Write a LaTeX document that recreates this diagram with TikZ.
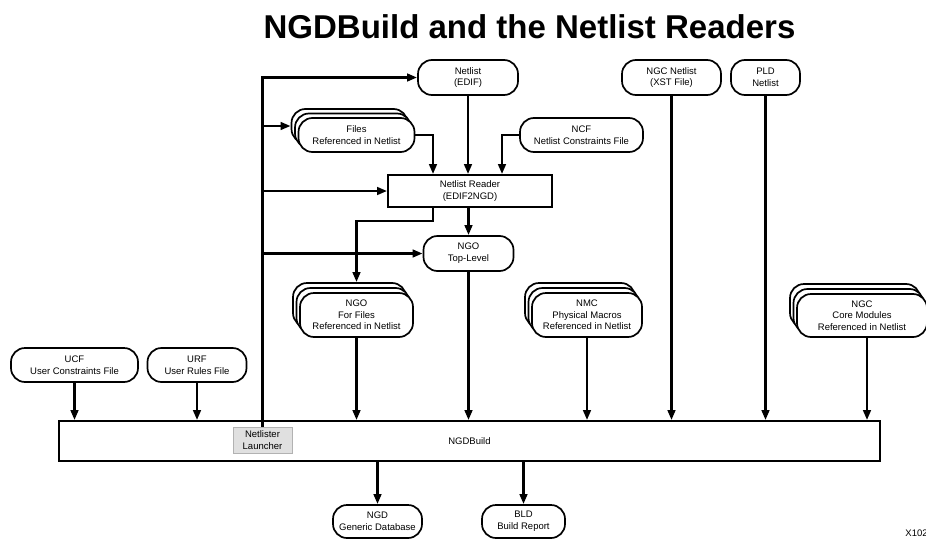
\documentclass[tikz,border=0pt]{standalone}
\usepackage{fontspec}
\setmainfont{Liberation Sans}
\usetikzlibrary{arrows.meta}
\tikzset{
  base/.style={font=\fontsize{9.5}{11.7}\selectfont, align=center, inner sep=0pt},
  rbox/.style={base, draw, line width=1.7pt, rounded corners=14pt, fill=white},
  sbox/.style={base, draw, line width=1.7pt, fill=white},
  launch/.style={base, draw=black!30, fill=black!12, line width=1pt},
  conn/.style={line width=2.6pt, -{Triangle[length=10pt,width=7.5pt]}},
}
\begin{document}
\begin{tikzpicture}[x=1pt,y=-1pt]
\useasboundingbox (0,0) rectangle (926,538);
% title
\node[font=\fontsize{33}{36}\selectfont\bfseries, inner sep=0pt] (title) at (529.5,27) {NGDBuild and the Netlist Readers};
% top row
\node[rbox, minimum width=100pt, minimum height=35pt] (netlist) at (468,77.5) {Netlist\\(EDIF)};
\node[rbox, minimum width=99pt, minimum height=35pt] (ngcnet) at (671.5,77.5) {NGC Netlist\\(XST File)};
\node[rbox, minimum width=69pt, minimum height=35pt] (pld) at (765.5,77.5) {PLD\\Netlist};
% files stack
\node[rbox, minimum width=116pt, minimum height=34pt] (filesB) at (349.5,126) {};
\node[rbox, minimum width=116pt, minimum height=34pt] (filesM) at (353,130.5) {};
\node[rbox, minimum width=116pt, minimum height=34pt] (files) at (356.5,135) {Files\\Referenced in Netlist};
\node[rbox, minimum width=123pt, minimum height=34pt] (ncf) at (581.5,135) {NCF\\Netlist Constraints File};
\node[sbox, minimum width=164pt, minimum height=32pt] (reader) at (470,191) {Netlist Reader\\(EDIF2NGD)};
\node[rbox, minimum width=90pt, minimum height=35pt] (ngotop) at (468.5,253.5) {NGO\\Top-Level};
% NGO for files stack
\node[rbox, minimum width=113pt, minimum height=44pt] (ngofB) at (349.5,305) {};
\node[rbox, minimum width=113pt, minimum height=44pt] (ngofM) at (353,310) {};
\node[rbox, minimum width=113pt, minimum height=44pt] (ngof) at (356.5,315) {NGO\\For Files\\Referenced in Netlist};
% NMC stack
\node[rbox, minimum width=110pt, minimum height=44pt] (nmcB) at (580,305) {};
\node[rbox, minimum width=110pt, minimum height=44pt] (nmcM) at (583.5,310) {};
\node[rbox, minimum width=110pt, minimum height=44pt] (nmc) at (587,315) {NMC\\Physical Macros\\Referenced in Netlist};
% NGC stack
\node[rbox, minimum width=130pt, minimum height=43pt] (ngcB) at (855,305.5) {};
\node[rbox, minimum width=130pt, minimum height=43pt] (ngcM) at (858.5,310.5) {};
\node[rbox, minimum width=130pt, minimum height=43pt] (ngc) at (862,315.5) {NGC\\Core Modules\\Referenced in Netlist};
% UCF / URF
\node[rbox, minimum width=127pt, minimum height=34pt] (ucf) at (74.5,365) {UCF\\User Constraints File};
\node[rbox, minimum width=99pt, minimum height=34pt] (urf) at (197,365) {URF\\User Rules File};
% NGDBuild
\node[sbox, minimum width=821pt, minimum height=40pt] (ngd) at (469.5,441) {NGDBuild};
\node[launch, minimum width=59pt, minimum height=26pt] (launcher) at (262.5,440) {Netlister\\Launcher};
% outputs
\node[rbox, minimum width=89pt, minimum height=33pt] (ngdout) at (377.5,521.5) {NGD\\Generic Database};
\node[rbox, minimum width=83pt, minimum height=33pt] (bld) at (523.5,521.5) {BLD\\Build Report};
\node[base] (xid) at (916.5,533) {X102};
% left bus
\coordinate (bus) at (262.5,77.5);
\draw[conn] (launcher.north) -- (bus) -- (netlist.west);
\draw[conn] (launcher.north |- filesB.west) -- (filesB.west);
\draw[conn] (launcher.north |- reader.west) -- (reader.west);
\draw[conn] (launcher.north |- ngotop.west) -- (ngotop.west);
% into reader
\coordinate (rin1) at ([xshift=-37pt]reader.north);
\coordinate (rin3) at ([xshift=32pt]reader.north);
\draw[conn] (files.east) -| (rin1);
\draw[conn] (netlist.south) -- (netlist.south |- reader.north);
\draw[conn] (ncf.west) -| (rin3);
% out of reader
\coordinate (rout1) at ([xshift=-37pt]reader.south);
\coordinate (bend) at (356.5,221);
\draw[conn] (rout1) |- (bend) -- (ngof.north |- ngofB.north);
\draw[conn] (ngotop.north |- reader.south) -- (ngotop.north);
% into NGDBuild
\draw[conn] (ngotop.south) -- (ngotop.south |- ngd.north);
\draw[conn] (ngof.south) -- (ngof.south |- ngd.north);
\draw[conn] (nmc.south) -- (nmc.south |- ngd.north);
\draw[conn] ([xshift=5pt]ngc.south) -- ([xshift=5pt]ngc.south |- ngd.north);
\draw[conn] (ngcnet.south) -- (ngcnet.south |- ngd.north);
\draw[conn] (pld.south) -- (pld.south |- ngd.north);
\draw[conn] (ucf.south) -- (ucf.south |- ngd.north);
\draw[conn] (urf.south) -- (urf.south |- ngd.north);
% outputs
\draw[conn] (ngdout.north |- ngd.south) -- (ngdout.north);
\draw[conn] (bld.north |- ngd.south) -- (bld.north);
\end{tikzpicture}
\end{document}
